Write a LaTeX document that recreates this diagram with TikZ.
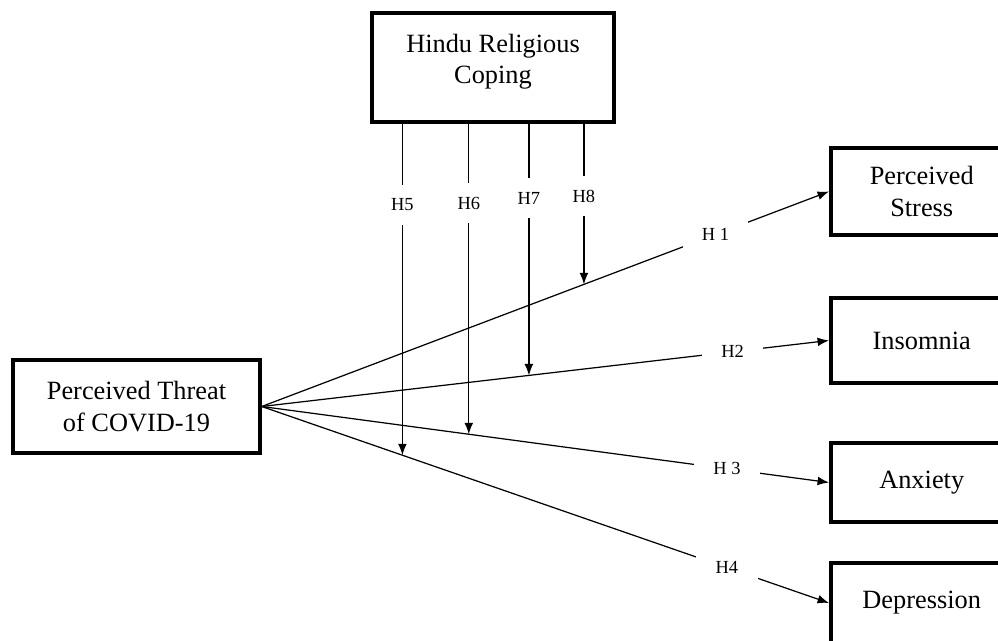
\documentclass[tikz,border=0pt]{standalone}
\usepackage{fontspec}
\setmainfont{Liberation Serif}
\usetikzlibrary{arrows.meta}

\begin{document}
\begin{tikzpicture}[x=0.02cm, y=-0.02cm,
    box/.style={draw, line width=2pt, align=center, inner sep=0pt,
      font=\fontsize{15}{18}\selectfont},
    outbox/.style={box, anchor=west, minimum width=3.64cm},
    link/.style={line width=0.7pt, -{Latex[length=6.5pt, width=5pt]}},
    hlab/.style={fill=white, inner xsep=11pt, inner ysep=4pt,
      font=\fontsize{10.5}{12}\selectfont},
    vlab/.style={fill=white, inner xsep=2pt, inner ysep=8pt,
      font=\fontsize{10.5}{12}\selectfont}]
    \useasboundingbox (0,0) rectangle (998,641);
    \clip (0,0) rectangle (998,641);

    % predictor and moderator
    \node[box, minimum width=4.94cm, minimum height=1.86cm] (threat) at (136.5,406.5) {Perceived Threat\\of COVID-19};
    \node[box, minimum width=4.84cm, minimum height=2.18cm] (hindu) at (493,67.5) {Hindu Religious\\Coping\rule[-10pt]{0pt}{0pt}};

    % outcomes
    \node[outbox, minimum height=1.74cm] (stress)   at (829,191.5) {Perceived\\Stress};
    \node[outbox, minimum height=1.7cm]  (insomnia) at (829,340.5) {Insomnia};
    \node[outbox, minimum height=1.58cm] (anxiety)  at (829,482.5) {Anxiety};
    \node[outbox, minimum height=1.6cm]  (depress)  at (829,603)   {Depression};

    % direct paths H1--H4
    \draw[link] (threat.east) -- (stress.west)
        node[hlab, pos=0.8] (h1) {H 1} coordinate[pos=0.568] (m8);
    \draw[link] (threat.east) -- (insomnia.west)
        node[hlab, pos=0.83] (h2) {H2} coordinate[pos=0.471] (m7);
    \draw[link] (threat.east) -- (anxiety.west)
        node[hlab, pos=0.82] (h3) {H 3} coordinate[pos=0.365] (m6);
    \draw[link] (threat.east) -- (depress.west)
        node[hlab, pos=0.82] (h4) {H4} coordinate[pos=0.248] (m5);

    % moderating paths H5--H8
    \draw[link] (m5 |- hindu.south) -- (m5);
    \draw[link] (m6 |- hindu.south) -- (m6);
    \draw[link] (m7 |- hindu.south) -- (m7);
    \draw[link] (m8 |- hindu.south) -- (m8);
    \node[vlab] (h5) at (m5 |- 0,205) {H5};
    \node[vlab] (h6) at (m6 |- 0,203) {H6};
    \node[vlab] (h7) at (m7 |- 0,198) {H7};
    \node[vlab] (h8) at (m8 |- 0,196) {H8};
\end{tikzpicture}
\end{document}
